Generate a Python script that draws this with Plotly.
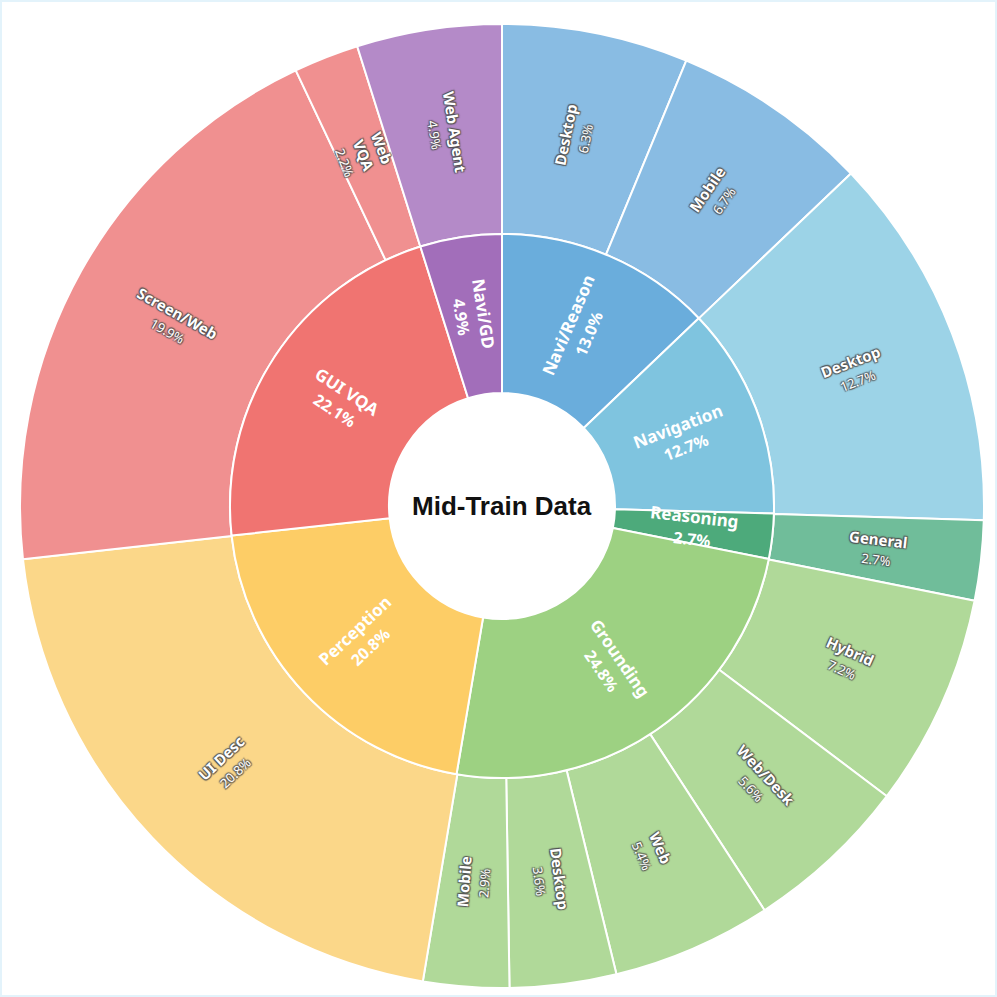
import math
import plotly.graph_objects as go

# ---------------- data ----------------
inner_labels = ["Navi/Reason", "Navigation", "Reasoning", "Grounding", "Perception", "GUI VQA", "Navi/GD"]
inner_values = [13.0, 12.7, 2.7, 24.8, 20.8, 22.1, 4.9]

outer_parents = ["Navi/Reason", "Navi/Reason", "Navigation", "Reasoning",
                 "Grounding", "Grounding", "Grounding", "Grounding", "Grounding",
                 "Perception", "GUI VQA", "GUI VQA", "Navi/GD"]
outer_labels = ["Desktop", "Mobile", "Desktop", "General",
                "Hybrid", "Web/Desk", "Web", "Desktop", "Mobile",
                "UI Desc", "Screen/Web", "Web VQA", "Web Agent"]
outer_values = [6.3, 6.7, 12.7, 2.7, 7.2, 5.6, 5.4, 3.6, 2.9, 20.8, 19.9, 2.2, 4.9]

center_title = "Mid-Train Data"

# ---------------- style ----------------
inner_colors = {
    "Navi/Reason": "#6AADDC", "Navigation": "#7FC4DF", "Reasoning": "#4DAA7B",
    "Grounding": "#9DD182", "Perception": "#FDCD66", "GUI VQA": "#F07471", "Navi/GD": "#A26EBA",
}
outer_colors = {
    "Navi/Reason": "#89BCE3", "Navigation": "#9CD3E7", "Reasoning": "#70BD9A",
    "Grounding": "#B0D999", "Perception": "#FBD789", "GUI VQA": "#F09090", "Navi/GD": "#B48AC8",
}

W = H = 997
CX, CY = 502, 506
R_OUT, R_MID, R_HOLE = 482, 272, 113

def dom(r):
    return dict(x=[(CX - r) / W, (CX + r) / W],
                y=[(H - CY - r) / H, (H - CY + r) / H])

FONT = "Noto Sans"
shadow = ("1px 1px 1px rgba(80,80,80,0.85), -1px -1px 1px rgba(80,80,80,0.85), "
          "1px -1px 1px rgba(80,80,80,0.85), -1px 1px 1px rgba(80,80,80,0.85)")

fig = go.Figure()

fig.add_trace(go.Pie(
    labels=[f"{p} / {l}" for p, l in zip(outer_parents, outer_labels)],
    values=outer_values,
    textinfo="none",
    hovertemplate="%{label}: %{value}%<extra></extra>",
    sort=False, direction="clockwise", rotation=0,
    hole=R_MID / R_OUT,
    domain=dom(R_OUT),
    marker=dict(colors=[outer_colors[p] for p in outer_parents], line=dict(color="white", width=2)),
    showlegend=False,
))

fig.add_trace(go.Pie(
    labels=inner_labels,
    values=inner_values,
    textinfo="none",
    hovertemplate="%{label}: %{value}%<extra></extra>",
    sort=False, direction="clockwise", rotation=0,
    hole=R_HOLE / R_MID,
    domain=dom(R_MID),
    marker=dict(colors=[inner_colors[l] for l in inner_labels], line=dict(color="white", width=2)),
    showlegend=False,
))


def add_ring_labels(labels, values, r_in, r_out, fmt, font):
    """Radial labels placed at the middle of each slice, same angles as the pie (clockwise from 12 o'clock)."""
    total = sum(values)
    cum = 0.0
    rm = (r_in + r_out) / 2
    for lab, v in zip(labels, values):
        theta = 360.0 * (cum + v / 2) / total
        cum += v
        t = math.radians(theta)
        px = CX + rm * math.sin(t)
        py = CY - rm * math.cos(t)
        ang = theta - 90 if theta <= 180 else theta - 270
        fig.add_annotation(
            x=px / W, y=1 - py / H, xref="paper", yref="paper",
            xanchor="center", yanchor="middle",
            text=fmt(lab, v), textangle=ang, showarrow=False,
            font=font,
        )


add_ring_labels(
    inner_labels, inner_values, R_HOLE, R_MID,
    lambda l, v: f"<b>{l}</b><br><b><span style='font-size:16px'>{v:.1f}%</span></b>",
    dict(family=FONT, size=17, color="white"),
)
add_ring_labels(
    outer_labels, outer_values, R_MID, R_OUT,
    lambda l, v: (f"<b>{l.replace(' ', '<br>') if l == 'Web VQA' else l}</b><br>"
                  f"<span style='font-size:13px'>{v:.1f}%</span>"),
    dict(family=FONT, size=15, color="white", shadow=shadow),
)

fig.add_annotation(
    x=CX / W, y=1 - CY / H, xref="paper", yref="paper",
    text=f"<b>{center_title}</b>", showarrow=False,
    font=dict(family="Liberation Sans", size=26, color="#111111"),
)

fig.add_shape(type="rect", xref="paper", yref="paper",
              x0=1 / W, y0=1 / H, x1=1 - 1 / W, y1=1 - 1 / H,
              line=dict(color="#E3F3FB", width=2))

fig.update_layout(
    width=W, height=H,
    margin=dict(l=0, r=0, t=0, b=0),
    paper_bgcolor="white", plot_bgcolor="white",
)

fig.write_html("out.html", config={"displayModeBar": False},
               post_script="document.body.style.margin='0';")
